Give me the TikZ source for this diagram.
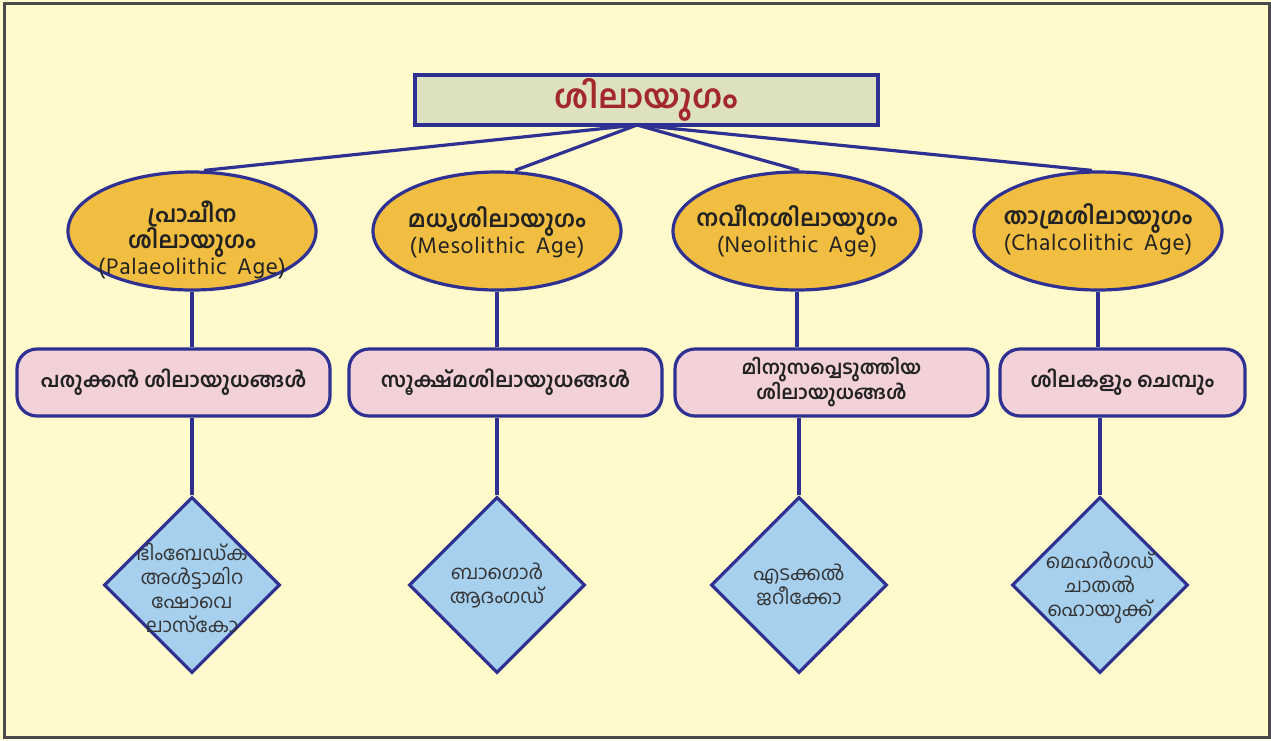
\documentclass[tikz,border=0pt]{standalone}
\usepackage{fontspec}
\usetikzlibrary{shapes.geometric}
\newfontfamily\ml[Script=Malayalam]{Hind Kochi}
\newfontfamily\en[LetterSpace=3,WordSpace=1.6]{Hind Kochi}
\definecolor{bgc}{HTML}{FFF9CC}
\definecolor{framec}{HTML}{4A4A4A}
\definecolor{navy}{HTML}{2E3192}
\definecolor{titlefill}{HTML}{DDE1C0}
\definecolor{titletxt}{HTML}{A3282C}
\definecolor{ellfill}{HTML}{F2BE41}
\definecolor{boxfill}{HTML}{F2D1D8}
\definecolor{diafill}{HTML}{A7D0EE}
\definecolor{txtc}{HTML}{222222}
\definecolor{sitec}{HTML}{333333}
\begin{document}
\begin{tikzpicture}[x=1pt,y=1pt,
  titlebox/.style={draw=navy,line width=3.2pt,fill=titlefill,minimum width=463pt,minimum height=50pt,inner sep=0pt,
    text=titletxt,font=\ml\bfseries\fontsize{33}{36}\selectfont},
  agebox/.style={ellipse,draw=navy,line width=3.2pt,fill=ellfill,minimum width=248pt,minimum height=118pt,inner sep=0pt},
  agetext/.style={align=center,text=txtc,inner sep=0pt,font=\ml\fontsize{23}{26}\selectfont},
  toolbox/.style={draw=navy,line width=3.2pt,fill=boxfill,rounded corners=20pt,minimum height=67pt,inner sep=0pt,
    align=center,text=txtc,font=\ml\bfseries\fontsize{20.5}{25}\selectfont},
  sitebox/.style={diamond,draw=navy,line width=3.2pt,fill=diafill,minimum width=176pt,minimum height=176pt,inner sep=0pt},
  sitetext/.style={align=center,text=sitec,inner sep=0pt,font=\ml\fontsize{19.5}{24}\selectfont},
  link/.style={draw=navy,line width=3.2pt}
]
\useasboundingbox (0,0) rectangle (1271,-740);
\fill[bgc] (0,0) rectangle (1271,-740);
\draw[framec,line width=3pt] (4.5,-3) rectangle (1269.5,-737.5);

\node[titlebox] (title) at (646.5,-100) {ശിലായുഗം};
\coordinate (hub) at (637,-125);

\node[agebox] (e1) at (192,-231) {};
\node[agebox] (e2) at (497,-231) {};
\node[agebox] (e3) at (797,-231) {};
\node[agebox] (e4) at (1098,-231) {};
\node[agetext] (e1t) at (192,-240) {{\bfseries പ്രാചീന}\\{\bfseries ശിലായുഗം}\\{\en\fontsize{23}{26}\selectfont (Palaeolithic Age)}};
\node[agetext] (e2t) at (497,-232) {{\bfseries മധ്യശിലായുഗം}\\{\en\fontsize{23}{26}\selectfont (Mesolithic Age)}};
\node[agetext] (e3t) at (797,-231) {{\bfseries നവീനശിലായുഗം}\\{\en\fontsize{23}{26}\selectfont (Neolithic Age)}};
\node[agetext] (e4t) at (1098,-229) {{\bfseries താമ്രശിലായുഗം}\\{\en\fontsize{23}{26}\selectfont (Chalcolithic Age)}};

\draw[link] (hub) -- ([xshift=12pt]e1.north);
\draw[link] (hub) -- ([xshift=18pt]e2.north);
\draw[link] (hub) -- ([xshift=2pt]e3.north);
\draw[link] (hub) -- ([xshift=-6pt]e4.north);

\node[toolbox,minimum width=313pt] (b1) at (173.5,-382.5) {പരുക്കൻ ശിലായുധങ്ങൾ};
\node[toolbox,minimum width=313pt] (b2) at (505.5,-382.5) {സൂക്ഷ്മശിലായുധങ്ങൾ};
\node[toolbox,minimum width=313pt,font=\ml\bfseries\fontsize{19}{25}\selectfont] (b3) at (831.5,-382.5) {മിനുസപ്പെടുത്തിയ\\ശിലായുധങ്ങൾ};
\node[toolbox,minimum width=245pt] (b4) at (1122.5,-382.5) {ശിലകളും ചെമ്പും};

\node[sitebox] (d1) at (192,-585) {};
\node[sitebox] (d2) at (497,-585) {};
\node[sitebox] (d3) at (799,-585) {};
\node[sitebox] (d4) at (1100,-585) {};
\node[sitetext] (d1t) at (192,-588) {ഭിംബേഡ്ക\\അൾട്ടാമിറ\\ഷോവെ\\ലാസ്‌കോ};
\node[sitetext] (d2t) at (497,-585) {ബാഗൊർ\\ആദംഗഡ്};
\node[sitetext] (d3t) at (799,-585) {എടക്കൽ\\ജറീക്കോ};
\node[sitetext] (d4t) at (1100,-588) {മെഹർഗഡ്\\ചാതൽ\\ഹൊയുക്ക്};

\draw[link] (e1.south) -- (e1.south |- b1.north);
\draw[link] (e2.south) -- (e2.south |- b2.north);
\draw[link] (e3.south) -- (e3.south |- b3.north);
\draw[link] (e4.south) -- (e4.south |- b4.north);
\draw[link] (d1.north |- b1.south) -- (d1.north);
\draw[link] (d2.north |- b2.south) -- (d2.north);
\draw[link] (d3.north |- b3.south) -- (d3.north);
\draw[link] (d4.north |- b4.south) -- (d4.north);
\end{tikzpicture}
\end{document}
